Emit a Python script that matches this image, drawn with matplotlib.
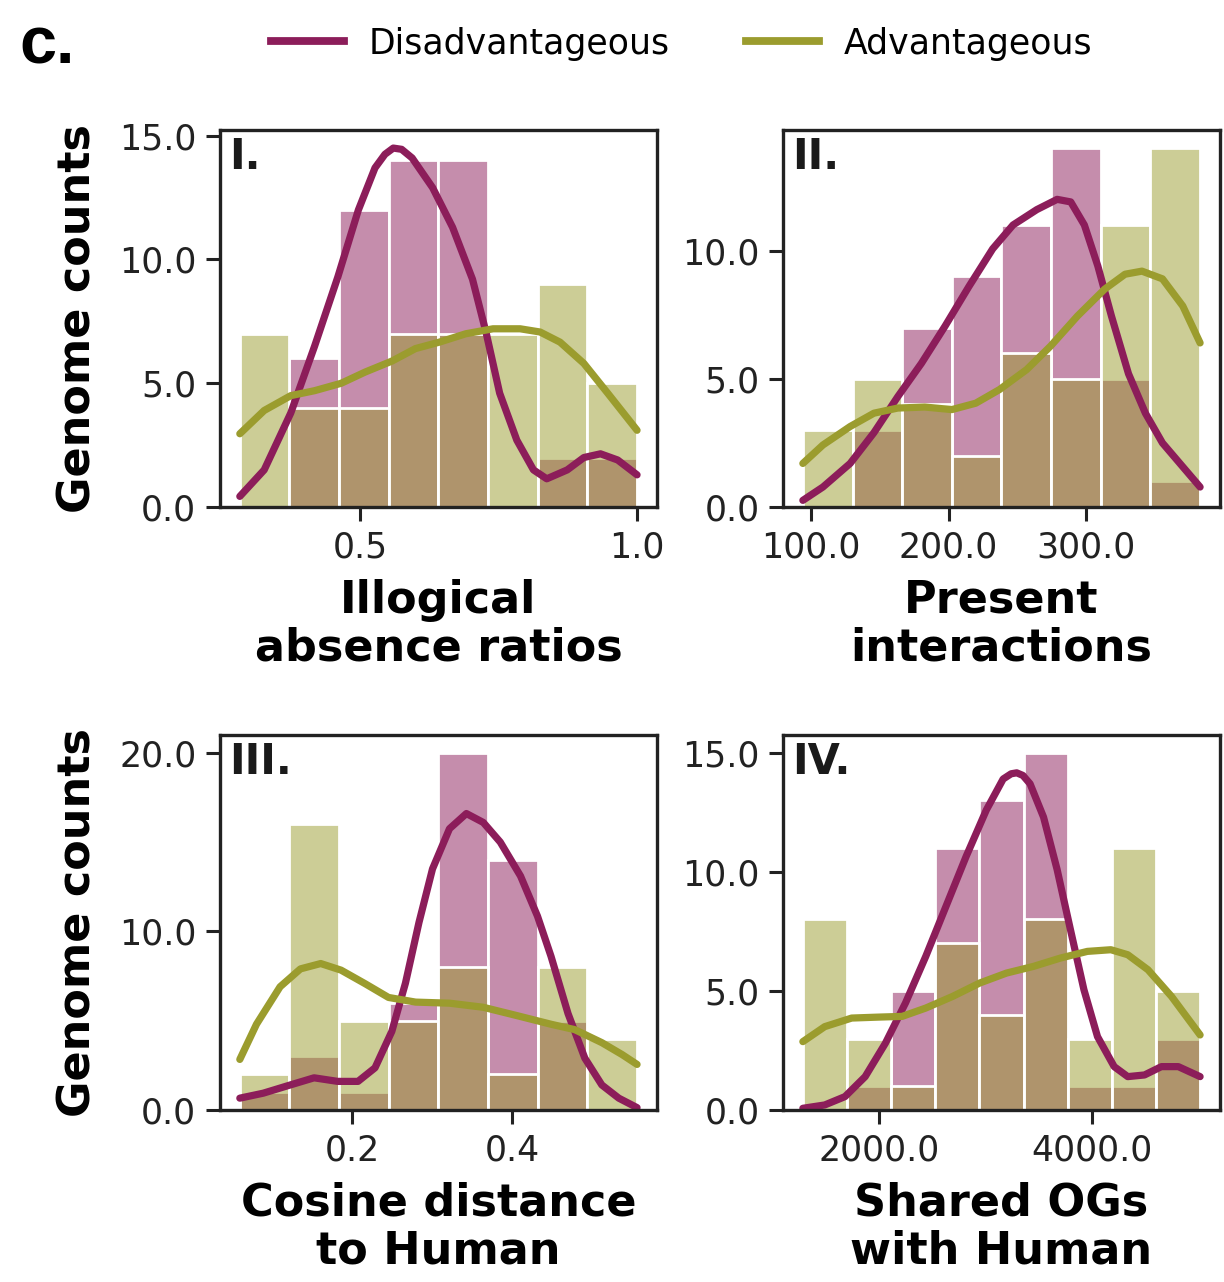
import numpy as np
import matplotlib
matplotlib.use("Agg")
from matplotlib import pyplot as plt
from matplotlib.colors import to_rgba
from matplotlib.ticker import MultipleLocator, FormatStrFormatter

plt.rcParams['font.family'] = 'DejaVu Sans'
plt.rcParams['xtick.labelsize'] = 12.5
plt.rcParams['ytick.labelsize'] = 12.5
plt.rcParams['axes.labelsize'] = 16
plt.rcParams['axes.labelweight'] = 'bold'

DIS_COLOR = '#8c1d5a'
ADV_COLOR = '#9b9c2e'

# I. Illogical absence ratios
ratio_range = (0.283, 1.0)
ratio_dis = [0, 6, 12, 14, 14, 0, 2, 2]
ratio_adv = [7, 4, 4, 7, 7, 7, 9, 5]
ratio_kde_dis_x = [0.283, 0.327, 0.375, 0.418, 0.460, 0.497, 0.527, 0.545, 0.560, 0.575, 0.594, 0.631,
                   0.667, 0.703, 0.728, 0.752, 0.783, 0.813, 0.837, 0.874, 0.904, 0.934, 0.965, 1.0]
ratio_kde_dis_y = [0.43, 1.5, 3.8, 6.5, 9.3, 12.0, 13.7, 14.25, 14.5, 14.45, 14.1, 12.9,
                   11.3, 9.2, 7.0, 4.6, 2.7, 1.5, 1.14, 1.5, 2.0, 2.15, 1.9, 1.3]
ratio_kde_adv_x = [0.283, 0.327, 0.375, 0.418, 0.466, 0.509, 0.558, 0.600, 0.643, 0.691, 0.740, 0.789,
                   0.825, 0.861, 0.904, 0.947, 1.0]
ratio_kde_adv_y = [2.96, 3.9, 4.5, 4.7, 5.0, 5.45, 5.9, 6.4, 6.66, 7.0, 7.2, 7.2,
                   7.07, 6.66, 5.8, 4.6, 3.1]

# II. Present interactions
inter_range = (94, 383)
inter_dis = [0, 3, 7, 9, 11, 14, 5, 1]
inter_adv = [3, 5, 4, 2, 6, 5, 11, 14]
inter_kde_dis_x = [94, 108.6, 128.4, 145.7, 163.0, 180.2, 197.5, 214.8, 232.1, 246.9, 264.2, 279.0,
                   288.9, 298.8, 308.6, 318.5, 330.9, 343.2, 355.6, 370.4, 383]
inter_kde_dis_y = [0.26, 0.78, 1.7, 2.9, 4.3, 5.6, 7.06, 8.6, 10.07, 11.0, 11.6, 12.0,
                   11.9, 11.0, 9.4, 7.45, 5.2, 3.66, 2.5, 1.57, 0.78]
inter_kde_adv_x = [94, 108.6, 128.4, 145.7, 163.0, 182.7, 202.4, 219.8, 237.0, 256.8, 274.1, 293.8,
                   313.6, 328.4, 340.7, 355.6, 370.4, 383]
inter_kde_adv_y = [1.7, 2.42, 3.14, 3.66, 3.86, 3.9, 3.8, 4.05, 4.58, 5.36, 6.27, 7.45,
                   8.5, 9.08, 9.2, 8.9, 7.84, 6.4]

# III. Cosine distance to Human
cos_range = (0.06, 0.556)
cos_dis = [1, 3, 1, 6, 20, 14, 5, 0]
cos_adv = [2, 16, 5, 5, 8, 2, 8, 4]
cos_kde_dis_x = [0.06, 0.0893, 0.123, 0.1527, 0.1822, 0.2076, 0.2288, 0.2498, 0.2668, 0.2837, 0.3006,
                 0.3218, 0.3429, 0.364, 0.3852, 0.4105, 0.4317, 0.4486, 0.4698, 0.4908, 0.512,
                 0.5332, 0.556]
cos_kde_dis_y = [0.66, 0.94, 1.4, 1.8, 1.6, 1.6, 2.36, 4.4, 7.1, 10.5, 13.5,
                 15.75, 16.6, 16.1, 15.0, 13.1, 10.85, 8.6, 5.4, 2.9, 1.4,
                 0.66, 0.13]
cos_kde_adv_x = [0.06, 0.0808, 0.1103, 0.1357, 0.161, 0.1864, 0.2161, 0.2457, 0.2795, 0.3218, 0.364,
                 0.4063, 0.4486, 0.4781, 0.512, 0.5374, 0.556]
cos_kde_adv_y = [2.83, 4.8, 6.9, 7.9, 8.2, 7.83, 7.08, 6.3, 6.04, 5.98, 5.75,
                 5.28, 4.8, 4.5, 3.77, 3.1, 2.55]

# IV. Shared OGs with Human
og_range = (1291, 5008)
og_dis = [0, 1, 5, 11, 13, 15, 1, 1, 3]
og_adv = [8, 3, 1, 7, 4, 8, 3, 11, 5]
og_kde_dis_x = [1291, 1496, 1685, 1874, 2063, 2252, 2441, 2630, 2819, 3008, 3165, 3240, 3292,
                3350, 3417, 3543, 3670, 3795, 3921, 4048, 4204, 4331, 4488, 4646, 4804, 5008]
og_kde_dis_y = [0.07, 0.21, 0.56, 1.4, 2.8, 4.5, 6.45, 8.55, 10.65, 12.6, 13.9, 14.12, 14.16,
                14.05, 13.7, 12.3, 10.1, 7.57, 5.05, 3.08, 1.82, 1.4, 1.47, 1.82, 1.82, 1.4]
og_kde_adv_x = [1291, 1496, 1748, 2000, 2220, 2441, 2693, 2945, 3197, 3449, 3701, 3953,
                4173, 4331, 4520, 4740, 5008]
og_kde_adv_y = [2.87, 3.5, 3.86, 3.9, 3.93, 4.28, 4.77, 5.33, 5.75, 6.03, 6.38, 6.66,
                6.73, 6.52, 5.89, 4.77, 3.15]


def hist_kde(ax, rng, dis, adv, kdx_d, kdy_d, kdx_a, kdy_a):
    edges = np.linspace(rng[0], rng[1], len(dis) + 1)
    widths = np.diff(edges)
    for counts, col in [(dis, DIS_COLOR), (adv, ADV_COLOR)]:
        ax.bar(edges[:-1], counts, width=widths, align='edge',
               facecolor=to_rgba(col, 0.5), edgecolor='white', linewidth=1.0)
    ax.plot(kdx_d, kdy_d, color=DIS_COLOR, lw=2.6, solid_capstyle='round', solid_joinstyle='round')
    ax.plot(kdx_a, kdy_a, color=ADV_COLOR, lw=2.6, solid_capstyle='round', solid_joinstyle='round')


fig = plt.figure(figsize=(6.12, 6.41), dpi=200)
w = 0.357
ax1 = fig.add_axes([0.1797, 0.6045, w, 0.294])
ax2 = fig.add_axes([0.6397, 0.6045, w, 0.294])
ax3 = fig.add_axes([0.1797, 0.1342, w, 0.2925])
ax4 = fig.add_axes([0.6397, 0.1342, w, 0.2925])

hist_kde(ax1, ratio_range, ratio_dis, ratio_adv, ratio_kde_dis_x, ratio_kde_dis_y,
         ratio_kde_adv_x, ratio_kde_adv_y)
hist_kde(ax2, inter_range, inter_dis, inter_adv, inter_kde_dis_x, inter_kde_dis_y,
         inter_kde_adv_x, inter_kde_adv_y)
hist_kde(ax3, cos_range, cos_dis, cos_adv, cos_kde_dis_x, cos_kde_dis_y,
         cos_kde_adv_x, cos_kde_adv_y)
hist_kde(ax4, og_range, og_dis, og_adv, og_kde_dis_x, og_kde_dis_y,
         og_kde_adv_x, og_kde_adv_y)

setup = [
    (ax1, 'I.', 'Illogical\nabsence ratios', 0.5, 5),
    (ax2, 'II.', 'Present\ninteractions', 100, 5),
    (ax3, 'III.', 'Cosine distance\nto Human', 0.2, 10),
    (ax4, 'IV.', 'Shared OGs\nwith Human', 2000, 5),
]
for ax, tag, xlab, xstep, ystep in setup:
    ax.xaxis.set_major_locator(MultipleLocator(xstep))
    ax.yaxis.set_major_locator(MultipleLocator(ystep))
    ax.xaxis.set_major_formatter(FormatStrFormatter('%.1f'))
    ax.yaxis.set_major_formatter(FormatStrFormatter('%.1f'))
    ax.set_xlabel(xlab, linespacing=1.15, labelpad=5)
    ax.tick_params(length=5, width=1.1, color='#222222', labelcolor='#222222')
    for sp in ax.spines.values():
        sp.set_linewidth(1.2)
        sp.set_color('#222222')
    ax.text(0.02, 0.985, tag, transform=ax.transAxes, ha='left', va='top',
            fontsize=15, fontweight='bold', color='#1a1a1a')

ax1.set_ylabel('Genome counts', labelpad=7)
ax3.set_ylabel('Genome counts', labelpad=7)

handles = [plt.Line2D([], [], color=DIS_COLOR, lw=2.8),
           plt.Line2D([], [], color=ADV_COLOR, lw=2.8)]
fig.legend(handles, ['Disadvantageous', 'Advantageous'], loc='center',
           bbox_to_anchor=(0.557, 0.966), ncol=2, frameon=False, fontsize=12.5,
           handlelength=2.1, handletextpad=0.7, columnspacing=2.2)

fig.text(0.016, 0.964, 'c.', fontsize=24, fontweight='bold', ha='left', va='center',
         family='Liberation Sans')

fig.savefig('out.png', dpi=200)
